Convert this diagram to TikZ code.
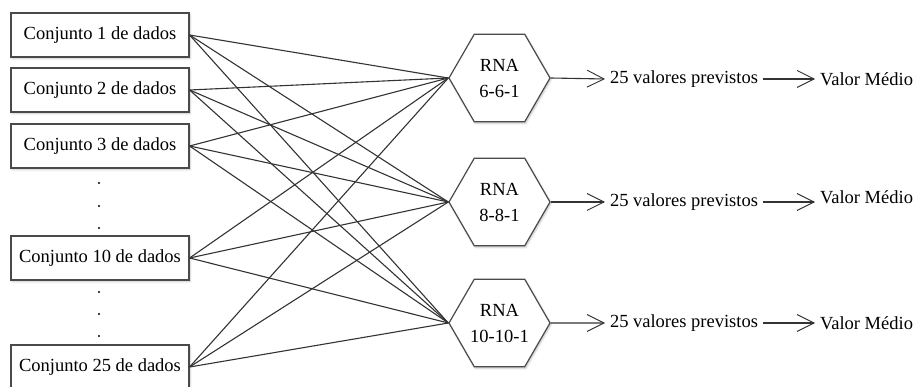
\documentclass[tikz,border=0pt]{standalone}
\usepackage{fontspec}
\setmainfont{Liberation Serif}
\usetikzlibrary{
  arrows.meta,
  shapes.geometric,
  shadows.blur
}
\definecolor{linegray}{HTML}{333333}
\definecolor{boxgray}{HTML}{4A4A4A}

\begin{document}
\begin{tikzpicture}[
  x=1pt, y=-1pt,
  every node/.style={font=\fontsize{18.5}{26}\selectfont},
  setB/.style={
    draw=boxgray, line width=1.2pt, fill=white, minimum width=178pt, minimum height=44pt,
    inner sep=0pt, blur shadow={shadow xshift=1pt, shadow yshift=-1.5pt, shadow blur radius=2pt, shadow opacity=25},
  },
  rnaH/.style={
    regular polygon, regular polygon sides=6, draw=boxgray, line width=1.2pt, fill=white,
    minimum size=101pt, inner sep=0pt, align=center,
    blur shadow={shadow xshift=1pt, shadow yshift=-1.5pt, shadow blur radius=2pt, shadow opacity=25},
  },
  link/.style={draw=linegray, line width=1.1pt},
  outA/.style={draw=linegray, line width=1.1pt, -{Straight Barb[length=17pt,width=17pt,line width=0.9pt]}},
  txt/.style={inner sep=0pt, outer sep=5pt},
]
\useasboundingbox (0,0) rectangle (919,387);

% Left side - data sets
\node[setB] (s1)  at (100, 35) {Conjunto 1 de dados};
\node[setB] (s2)  at (100, 90) {Conjunto 2 de dados};
\node[setB] (s3)  at (100,146) {Conjunto 3 de dados};
\node[setB] (s10) at (100,258) {Conjunto 10 de dados};
\node[setB] (s25) at (100,367) {Conjunto 25 de dados};
\foreach \y in {183,206,228,292,314,336}
  \fill (99,\y) circle (1.1pt);

% Middle - networks
\node[rnaH] (h1) at (499.5, 78) {RNA\\6-6-1};
\node[rnaH] (h2) at (499.5,202) {RNA\\8-8-1};
\node[rnaH] (h3) at (499.5,323) {RNA\\10-10-1};

\foreach \s in {s1,s2,s3,s10,s25}
  \foreach \h in {h1,h2,h3}
    \draw[link] (\s.east) -- (\h.west);

% Right side - outputs
\node[txt, anchor=west] (p1) at (605, 79) {25 valores previstos};
\node[txt, anchor=west] (p2) at (605,202) {25 valores previstos};
\node[txt, anchor=west] (p3) at (605,323) {25 valores previstos};
\node[txt, anchor=west] (m1) at (815, 79) {Valor Médio};
\node[txt, anchor=west] (m2) at (815,197) {Valor Médio};
\node[txt, anchor=west] (m3) at (815,323) {Valor Médio};

\draw[outA] (h1.east) -- (p1.west);
\draw[outA] (h2.east) -- (h2.east -| p2.west);
\draw[outA] (h3.east) -- (p3.west);
\draw[outA] (p1.east) -- (m1.west);
\draw[outA] (p2.east) -- (p2.east -| m2.west);
\draw[outA] (p3.east) -- (m3.west);

\end{tikzpicture}
\end{document}
